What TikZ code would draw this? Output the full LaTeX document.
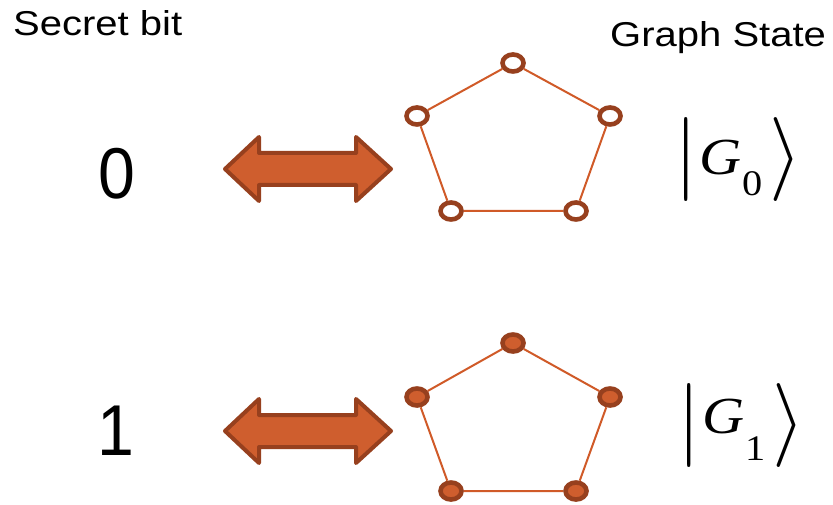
\RequirePackage{fix-cm}
\documentclass[tikz,border=0pt]{standalone}
\usepackage{amsmath}
\usepackage{fontspec}
\setmainfont{Liberation Sans}
\newfontfamily\widesans[FakeStretch=1.16]{Liberation Sans}
\newfontfamily\narrowsans[FakeStretch=0.92]{Liberation Sans}
\newfontfamily\timesf[FakeStretch=1.12]{Liberation Serif}
\usetikzlibrary{shapes.geometric}
\definecolor{edgeor}{HTML}{D05A28}
\definecolor{fillor}{HTML}{CF5E2E}
\definecolor{darkbr}{HTML}{97401E}
\tikzset{
  lbl/.style={inner sep=0pt, anchor=base west, font=\widesans\fontsize{34.5}{40}\selectfont},
  bitlbl/.style={inner sep=0pt, anchor=base west, font=\narrowsans\fontsize{72}{76}\selectfont},
  ketlbl/.style={inner sep=0pt, anchor=base west},
  vopen/.style={ellipse, draw=darkbr, line width=4.6pt, fill=white, minimum width=21pt, minimum height=17pt, inner sep=0pt},
  vfull/.style={ellipse, draw=darkbr, line width=4.6pt, fill=fillor, minimum width=21pt, minimum height=17pt, inner sep=0pt},
  gedge/.style={draw=edgeor, line width=2pt},
  bigarrow/.style={draw=darkbr, fill=fillor, line width=4pt, line join=round},
}
% #1 subscript, #2 subscript drop, #3 raise of G above the delimiters' baseline
\newcommand{\ketG}[3]{{\fontsize{84}{90}\selectfont$|$\kern1.5pt\raisebox{#3pt}{\timesf\fontsize{52}{56}\selectfont\itshape G\upshape\kern1pt\raisebox{-#2pt}{\fontsize{36}{38}\selectfont #1}}\kern7pt$\rangle$}}
\begin{document}
\begin{tikzpicture}[x=1pt,y=-1pt]
\useasboundingbox (0,0) rectangle (833,505);
% labels
\node[lbl] (secret) at (13,36) {Secret bit};
\node[lbl] (gstate) at (610,47) {Graph State};
\node[bitlbl] (b0) at (98,199) {0};
\node[bitlbl] (b1) at (97,455) {1};
% arrows
\foreach \cy/\nm in {169/a0, 431/a1} {
  \draw[bigarrow] (225,\cy) -- (259,\cy-32) -- (259,\cy-16) -- (356,\cy-16) -- (356,\cy-32)
     -- (391,\cy) -- (356,\cy+32) -- (356,\cy+16) -- (259,\cy+16) -- (259,\cy+32) -- cycle;
}
% graph 0
\node[vopen] (t0) at (513,63) {};
\node[vopen] (l0) at (417,116) {};
\node[vopen] (r0) at (610,116) {};
\node[vopen] (bl0) at (451,211) {};
\node[vopen] (br0) at (576,211) {};
\draw[gedge] (t0) -- (r0) -- (br0) -- (bl0) -- (l0) -- (t0);
% graph 1
\node[vfull] (t1) at (513,343) {};
\node[vfull] (l1) at (417,397) {};
\node[vfull] (r1) at (610,397) {};
\node[vfull] (bl1) at (451,491) {};
\node[vfull] (br1) at (576,491) {};
\draw[gedge] (t1) -- (r1) -- (br1) -- (bl1) -- (l1) -- (t1);
% kets
\node[ketlbl] (k0) at (674,181) {\ketG{0}{21}{6}};
\node[ketlbl] (k1) at (677,446) {\ketG{1}{27}{13}};
\end{tikzpicture}
\end{document}
